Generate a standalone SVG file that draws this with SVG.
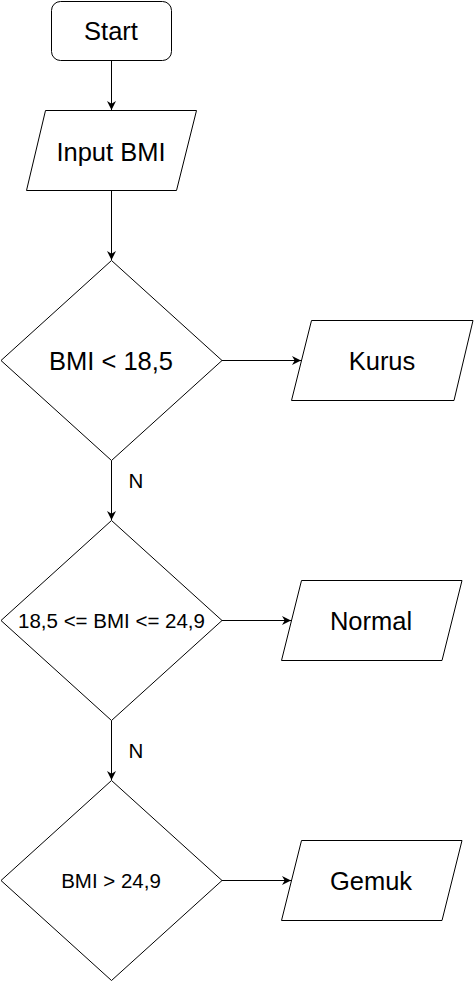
<svg xmlns="http://www.w3.org/2000/svg" width="474" height="982" viewBox="0 0 474 982">
<style>
.s{fill:#fff;stroke:#000;stroke-width:1}
.t{font-family:"Liberation Sans",Arial,sans-serif;fill:#000;text-anchor:middle}
.big{font-size:25.5px}
.mid{font-size:20.5px}
.c{fill:none;stroke:#000;stroke-width:1}
</style>
<defs>
<marker id="arr" viewBox="0 0 10 10" refX="10" refY="5" markerWidth="9" markerHeight="9" markerUnits="userSpaceOnUse" orient="auto">
<path d="M0,0 L10,5 L0,10 L3,5 Z" fill="#000"/>
</marker>
</defs>
<rect width="474" height="982" fill="#fff"/>
<g id="connectors">
<line class="c" x1="111.5" y1="60.5" x2="111.5" y2="110" marker-end="url(#arr)"/>
<line class="c" x1="111.5" y1="190.5" x2="111.5" y2="260" marker-end="url(#arr)"/>
<line class="c" x1="222" y1="360.5" x2="301" y2="360.5" marker-end="url(#arr)"/>
<line class="c" x1="111.5" y1="460.5" x2="111.5" y2="520" marker-end="url(#arr)"/>
<text class="t mid" x="136" y="488">N</text>
<line class="c" x1="222" y1="620.5" x2="291" y2="620.5" marker-end="url(#arr)"/>
<line class="c" x1="111.5" y1="720.5" x2="111.5" y2="780" marker-end="url(#arr)"/>
<text class="t mid" x="136" y="758">N</text>
<line class="c" x1="222" y1="880.5" x2="291" y2="880.5" marker-end="url(#arr)"/>
</g>
<g id="start">
<rect class="s" x="51.5" y="1.5" width="120" height="59" rx="9" ry="9"/>
<text class="t big" x="111" y="40">Start</text>
</g>
<g id="input">
<polygon class="s" points="45.5,110.5 196.5,110.5 176.5,190.5 26.5,190.5"/>
<text class="t big" x="111" y="160.5">Input BMI</text>
</g>
<g id="d1">
<polygon class="s" points="111.5,260.5 222,360.5 111.5,460.5 1,360.5"/>
<text class="t big" x="111" y="370">BMI &lt; 18,5</text>
</g>
<g id="kurus">
<polygon class="s" points="311.5,320.5 473,320.5 454,400.5 291.5,400.5"/>
<text class="t big" x="382" y="370">Kurus</text>
</g>
<g id="d2">
<polygon class="s" points="111.5,520.5 222,620.5 111.5,720.5 1,620.5"/>
<text class="t mid" x="111.5" y="627.5">18,5 &lt;= BMI &lt;= 24,9</text>
</g>
<g id="normal">
<polygon class="s" points="301.5,580.5 462,580.5 442,660.5 281.5,660.5"/>
<text class="t big" x="371" y="629.5">Normal</text>
</g>
<g id="d3">
<polygon class="s" points="111.5,780.5 222,880.5 111.5,980.5 1,880.5"/>
<text class="t mid" x="111" y="887.5">BMI &gt; 24,9</text>
</g>
<g id="gemuk">
<polygon class="s" points="301.5,840.5 462,840.5 442,920.5 281.5,920.5"/>
<text class="t big" x="371" y="889.5">Gemuk</text>
</g>
</svg>
